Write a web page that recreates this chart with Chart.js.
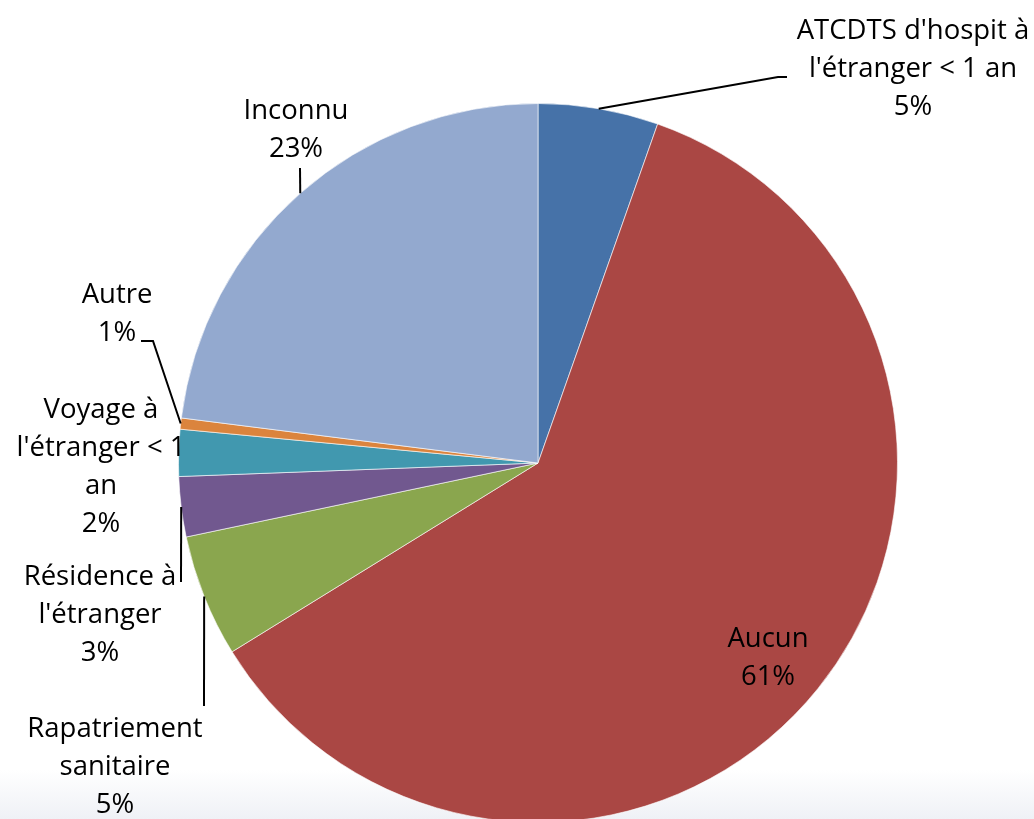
<!DOCTYPE html>
<html>
<head>
<meta charset="utf-8">
<script src="https://cdn.jsdelivr.net/npm/chart.js@4.4.1/dist/chart.umd.min.js"></script>
<style>
  html, body { margin: 0; padding: 0; }
  body {
    width: 1034px; height: 819px; overflow: hidden;
    background: linear-gradient(to bottom, #ffffff 0px, #ffffff 770px, #eff1f6 819px);
  }
  #wrap { width: 1034px; height: 819px; overflow: hidden; position: relative; }
</style>
</head>
<body>
<div id="wrap"><canvas id="pie" width="1034" height="823"></canvas></div>
<script>
// slices, clockwise from 12 o'clock
const categories = [
  "ATCDTS d'hospit à l'étranger < 1 an",
  "Aucun",
  "Rapatriement sanitaire",
  "Résidence à l'étranger",
  "Voyage à l'étranger < 1 an",
  "Autre",
  "Inconnu"
];
const shares = [5.4, 60.8, 5.5, 2.7, 2.1, 0.5, 23.0];
const pctLabels = ["5%", "61%", "5%", "3%", "2%", "1%", "23%"];
const colors = ["#4672a8", "#aa4744", "#8aa64e", "#71588f", "#4198af", "#db843d", "#93a9cf"];

// how the label text is broken, as in the original
const labelLines = [
  ["ATCDTS d'hospit à", "l'étranger < 1 an"],
  ["Aucun"],
  ["Rapatriement", "sanitaire"],
  ["Résidence à", "l'étranger"],
  ["Voyage à", "l'étranger < 1", "an"],
  ["Autre"],
  ["Inconnu"]
];

// label placement: centre x, first line y, and leader line bends (null = no leader)
const labelPlace = [
  { x: 913, y: 31, leader: [[778, 77], [787, 77]] },
  { x: 768, y: 639, leader: null },
  { x: 115, y: 729, leader: [[204, 706]] },
  { x: 100, y: 577, leader: [[181, 582]] },
  { x: 101, y: 410, leader: null },
  { x: 117, y: 295, leader: [[153, 341], [141, 341]] },
  { x: 296, y: 111, leader: [[300, 168]] }
];

const lineH = 38;

const labelPlugin = {
  id: 'sliceLabels',
  afterDatasetsDraw(chart) {
    const ctx = chart.ctx;
    const arcs = chart.getDatasetMeta(0).data;
    ctx.save();
    // leader lines
    ctx.strokeStyle = '#000';
    ctx.lineWidth = 2;
    arcs.forEach(function (arc, i) {
      const p = labelPlace[i];
      if (!p.leader) return;
      const mid = (arc.startAngle + arc.endAngle) / 2;
      ctx.beginPath();
      ctx.moveTo(arc.x + arc.outerRadius * Math.cos(mid), arc.y + arc.outerRadius * Math.sin(mid));
      p.leader.forEach(function (pt) { ctx.lineTo(pt[0], pt[1]); });
      ctx.stroke();
    });
    // texts
    ctx.fillStyle = '#000';
    ctx.font = '27.5px "Open Sans", "Noto Sans", sans-serif';
    ctx.textAlign = 'center';
    ctx.textBaseline = 'middle';
    arcs.forEach(function (arc, i) {
      const p = labelPlace[i];
      const lines = labelLines[i].concat([pctLabels[i]]);
      lines.forEach(function (t, k) {
        ctx.fillText(t, p.x, p.y + k * lineH);
      });
    });
    ctx.restore();
  }
};

new Chart(document.getElementById('pie'), {
  type: 'pie',
  data: {
    labels: categories,
    datasets: [{
      data: shares,
      backgroundColor: colors,
      borderColor: 'rgba(255,255,255,0.6)',
      borderWidth: 1
    }]
  },
  options: {
    responsive: false,
    animation: false,
    layout: { padding: { top: 103, left: 42, right: 0, bottom: 0 } },
    plugins: {
      legend: { display: false },
      tooltip: { enabled: false }
    }
  },
  plugins: [labelPlugin]
});
</script>
</body>
</html>
